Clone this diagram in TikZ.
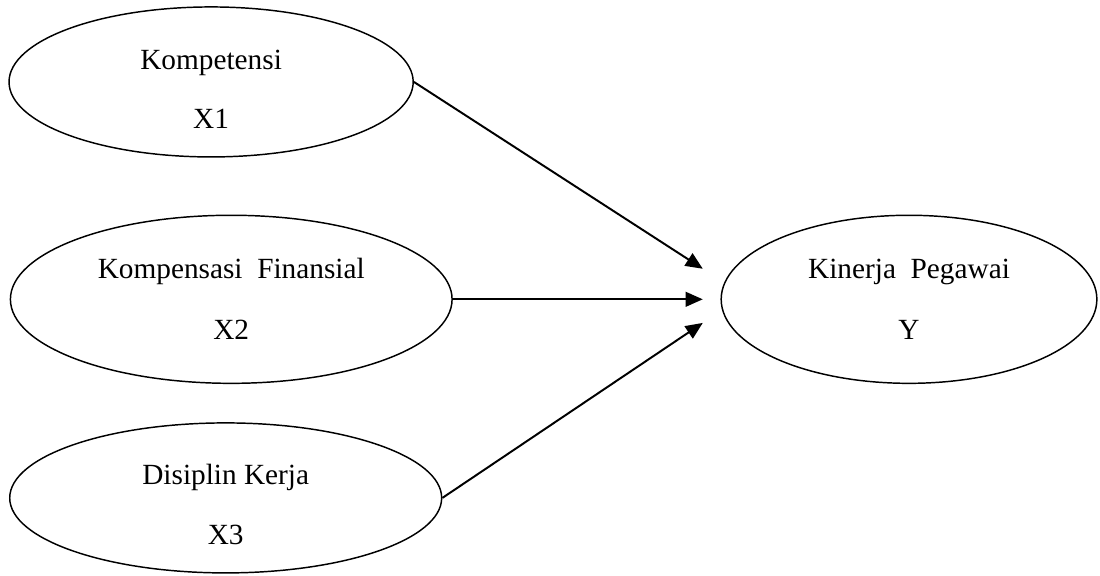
\documentclass[tikz,border=0pt]{standalone}
\usepackage{fontspec}
\setmainfont{Liberation Serif}
\usepackage{tikz}
\usetikzlibrary{shapes.geometric, arrows.meta, positioning}

\begin{document}
\begin{tikzpicture}[
    construct/.style={draw, ellipse, line width=0.6pt, inner sep=0pt, align=center, font=\fontsize{12}{14.5}\selectfont},
    arrow/.style={-{Triangle[length=7pt, width=6pt]}, line width=0.8pt}
]
\useasboundingbox (0,0) rectangle (15.84,8.28);

% Variables
\node[construct, minimum width=5.82cm, minimum height=2.16cm] (kompetensi) at (3.04, 7.10) {\rule{0pt}{14pt}Kompetensi\\[10pt]X1};
\node[construct, minimum width=6.36cm, minimum height=2.42cm] (kompensasi) at (3.33, 3.97) {Kompensasi\ \ Finansial\\[10.5pt]X2};
\node[construct, minimum width=6.22cm, minimum height=2.16cm] (disiplin) at (3.25, 1.11) {\rule{0pt}{14pt}Disiplin Kerja\\[10pt]X3};
\node[construct, minimum width=5.41cm, minimum height=2.42cm] (kinerja) at (13.09, 3.97) {Kinerja\ \ Pegawai\\[10.5pt]Y};

% Arrow tips
\coordinate (tipA) at (10.12, 4.41);
\coordinate (tipB) at (10.12, 3.97);
\coordinate (tipC) at (10.12, 3.63);

% Arrows
\draw[arrow] (kompetensi.east) -- (tipA);
\draw[arrow] (kompensasi.east) -- (tipB);
\draw[arrow] (disiplin.east) -- (tipC);

\end{tikzpicture}
\end{document}
